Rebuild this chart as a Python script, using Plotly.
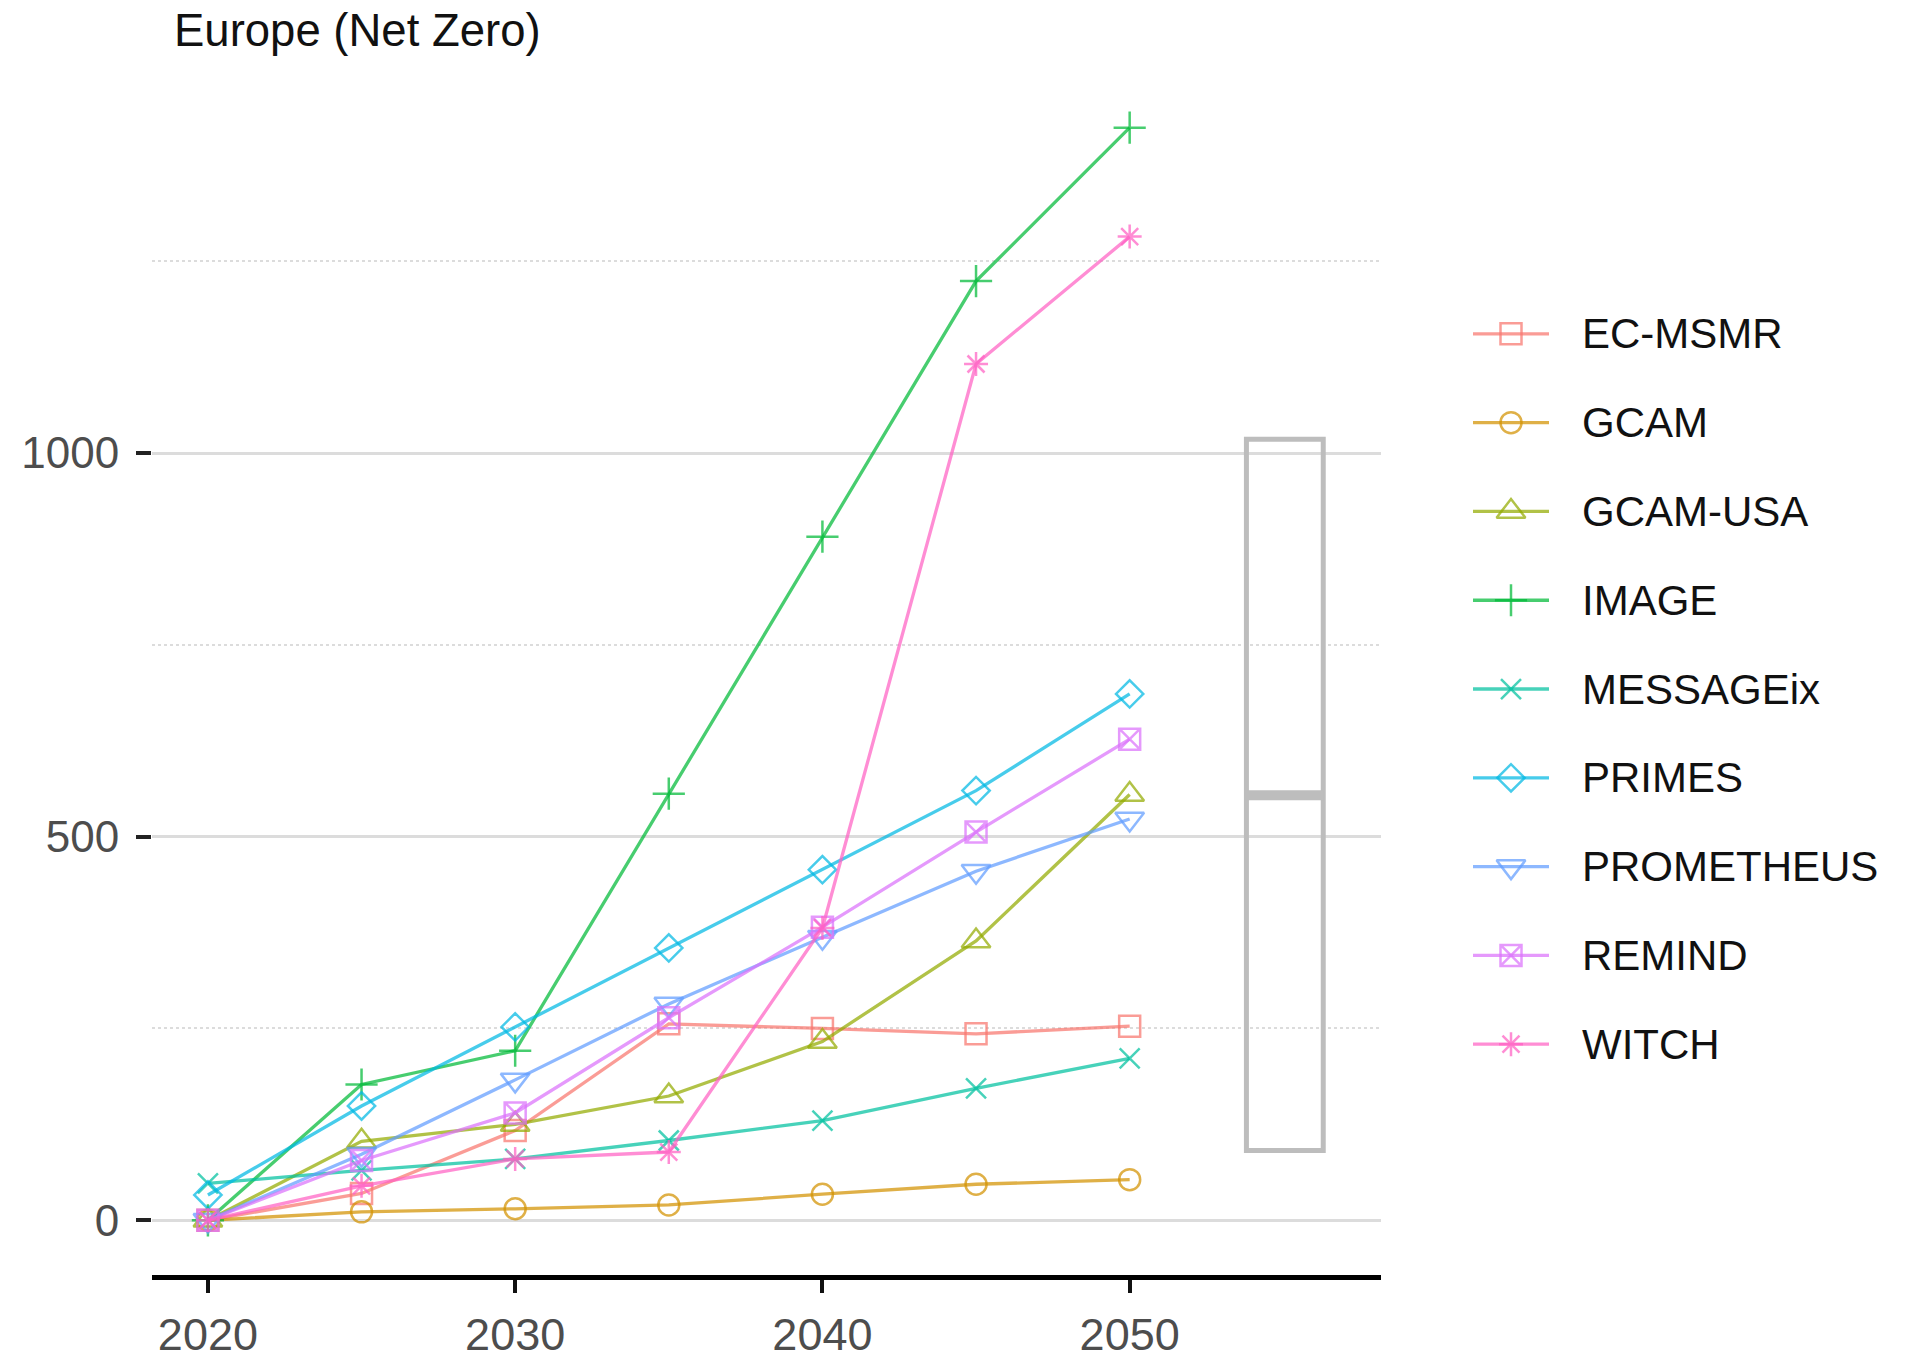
import plotly.graph_objects as go

# Net-zero pathway results for Europe, by model
years = [2020, 2025, 2030, 2035, 2040, 2045, 2050]
models = ["EC-MSMR", "GCAM", "GCAM-USA", "IMAGE", "MESSAGEix",
          "PRIMES", "PROMETHEUS", "REMIND", "WITCH"]

ec_msmr = [0, 35, 117, 256, 250, 243, 253]
gcam = [0, 11, 15, 20, 34, 47, 53]
gcam_usa = [0, 103, 125, 162, 233, 364, 555]
image = [0, 177, 221, 556, 891, 1224, 1424]
messageix = [48, 65, 80, 104, 130, 172, 211]
primes = [33, 149, 252, 355, 457, 560, 686]
prometheus = [0, 86, 183, 282, 369, 455, 523]
remind = [0, 78, 140, 264, 382, 506, 627]
witch = [0, 45, 80, 89, 381, 1116, 1282]

series = [ec_msmr, gcam, gcam_usa, image, messageix,
          primes, prometheus, remind, witch]

# 2050 range summary shown beside the panel
box_low = 91
box_median = 554
box_high = 1018

y_ticks = [0, 500, 1000]
x_ticks = [2020, 2030, 2040, 2050]

# ggplot-style hue palette and shapes
colors = ["#F8766D", "#D39200", "#93AA00", "#00BA38", "#00C19F",
          "#00B9E3", "#619CFF", "#DB72FB", "#FF61C3"]
symbols = ["square-open", "circle-open", "triangle-up-open", "cross-thin-open",
           "x-thin-open", "diamond-open", "triangle-down-open", "square-x-open",
           "asterisk-open"]
sizes = [21, 21, 25, 23, 20, 21, 25, 21, 20]


def rgba(hex_color, alpha):
    h = hex_color.lstrip("#")
    r, g, b = int(h[0:2], 16), int(h[2:4], 16), int(h[4:6], 16)
    return f"rgba({r},{g},{b},{alpha})"


W, H = 1925, 1360
FONT = "Liberation Sans, Arial, sans-serif"


def fy(px):
    """Paper fraction for a row measured from the top."""
    return 1 - px / H


fig = go.Figure()

for name, vals, col, sym, sz in zip(models, series, colors, symbols, sizes):
    c = rgba(col, 0.72)
    fig.add_trace(go.Scatter(
        x=years, y=vals, name=name, mode="lines+markers",
        line=dict(color=c, width=3.3),
        marker=dict(symbol=sym, size=sz, color=c, line=dict(color=c, width=2.5)),
        xaxis="x", yaxis="y", showlegend=False,
    ))

# Legend keys drawn on their own small axes
for i, (name, col, sym, sz) in enumerate(zip(models, colors, symbols, sizes)):
    c = rgba(col, 0.72)
    fig.add_trace(go.Scatter(
        x=[0, 1], y=[i, i], mode="lines",
        line=dict(color=c, width=3.3),
        xaxis="x2", yaxis="y2", showlegend=False, hoverinfo="skip",
    ))
    fig.add_trace(go.Scatter(
        x=[0.5], y=[i], mode="markers",
        marker=dict(symbol=sym, size=sz, color=c, line=dict(color=c, width=2.5)),
        xaxis="x2", yaxis="y2", showlegend=False, hoverinfo="skip",
    ))

annotations = [
    dict(text=name, x=1580 / W, xref="paper", y=i, yref="y2",
         xanchor="left", yanchor="middle", showarrow=False,
         font=dict(family=FONT, size=42, color="#111111"))
    for i, name in enumerate(models)
]
annotations.append(dict(
    text="Europe (Net Zero)", x=172 / W, xref="paper", y=fy(31), yref="paper",
    xanchor="left", yanchor="middle", showarrow=False,
    font=dict(family=FONT, size=45.5, color="#111111"),
))

box_x, box_w = 2055.05, 2.5
box_color = "#BDBDBD"
shapes = [
    dict(type="rect", xref="x", yref="y",
         x0=box_x - box_w / 2, x1=box_x + box_w / 2, y0=box_low, y1=box_high,
         line=dict(color=box_color, width=5), fillcolor="rgba(0,0,0,0)"),
    dict(type="line", xref="x", yref="y",
         x0=box_x - box_w / 2, x1=box_x + box_w / 2, y0=box_median, y1=box_median,
         line=dict(color=box_color, width=10)),
]

fig.update_layout(
    width=W, height=H,
    margin=dict(l=0, r=0, t=0, b=0),
    paper_bgcolor="white", plot_bgcolor="white",
    font=dict(family=FONT),
    xaxis=dict(
        domain=[152 / W, 1381 / W], range=[2018.18, 2058.18],
        tickvals=x_ticks, showgrid=False, zeroline=False,
        showline=True, linecolor="black", linewidth=5,
        ticks="outside", ticklen=13, tickwidth=4, tickcolor="#111111",
        tickfont=dict(family=FONT, size=45, color="#4D4D4D"),
        ticklabelstandoff=3, anchor="y",
    ),
    yaxis=dict(
        domain=[fy(1289), fy(74)], range=[-71, 1495],
        tickvals=y_ticks, showgrid=True, gridcolor="#DCDCDC", gridwidth=2.5,
        zeroline=False, showline=False,
        ticks="outside", ticklen=15, tickwidth=4, tickcolor="#222222",
        tickfont=dict(family=FONT, size=44, color="#4D4D4D"),
        ticklabelstandoff=8, anchor="x",
        minor=dict(tickvals=[250, 750, 1250], showgrid=True, gridcolor="#DCDCDC",
                   griddash="dot", gridwidth=2, ticks=""),
    ),
    xaxis2=dict(domain=[1473 / W, 1549 / W], range=[0, 1], visible=False,
                anchor="y2", fixedrange=True),
    yaxis2=dict(domain=[fy(1100.7), fy(292.7)], range=[8.5, -0.5],
                visible=False, anchor="x2", fixedrange=True),
    annotations=annotations,
    shapes=shapes,
    showlegend=False,
)

fig.write_html("out.html")
